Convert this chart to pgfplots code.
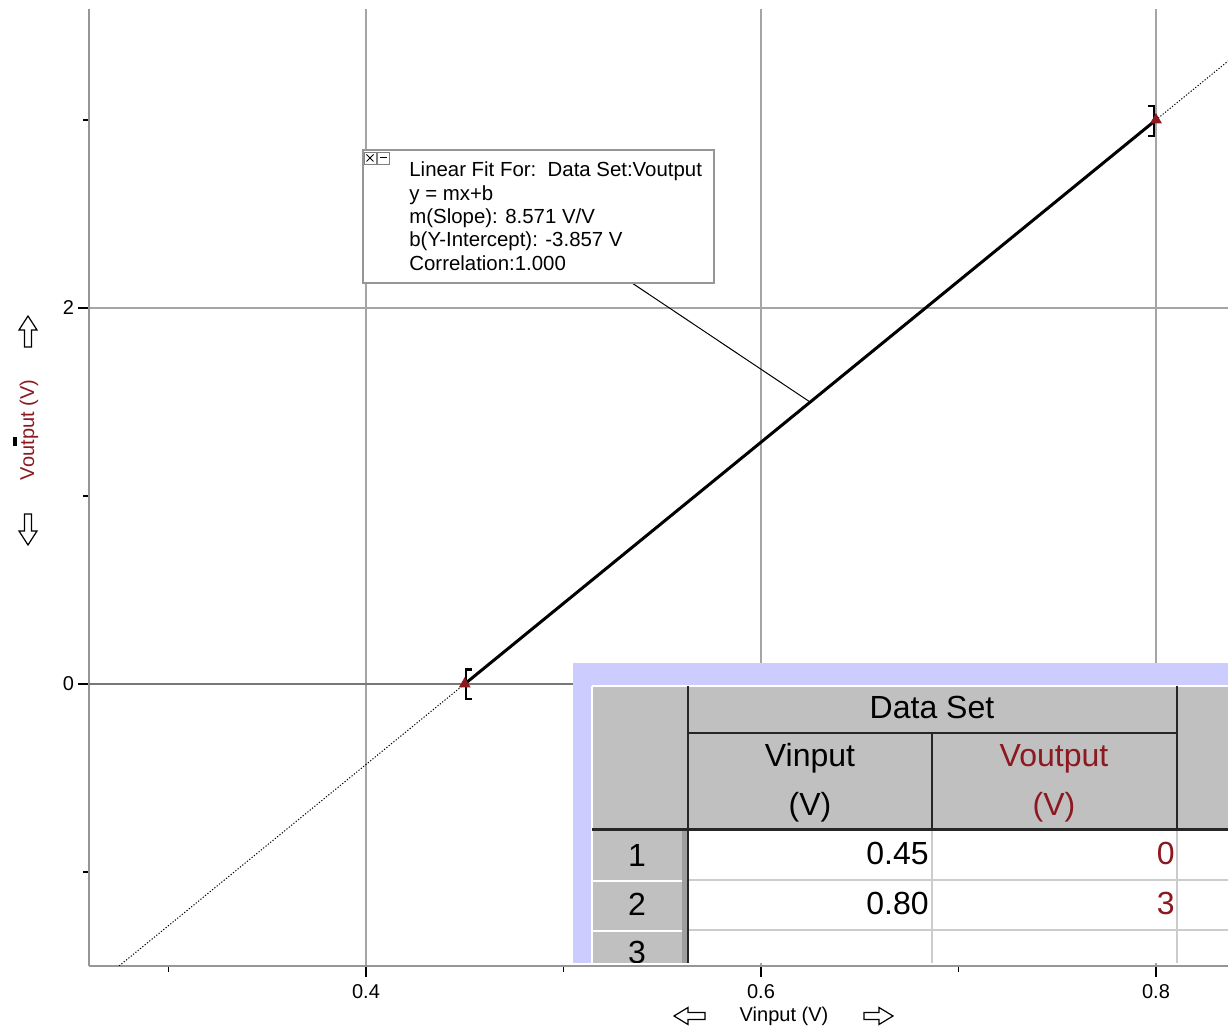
\documentclass[border=0pt]{standalone}
\usepackage{fontspec}
\setmainfont{Liberation Sans}
\usepackage{pgfplots}
\pgfplotsset{compat=1.18}

\definecolor{vout}{RGB}{140,24,32}
\definecolor{lav}{RGB}{204,204,255}
\definecolor{hdr}{RGB}{192,192,192}
\definecolor{gridc}{RGB}{165,165,165}
\definecolor{axc}{RGB}{150,150,150}

\begin{document}
\begin{tikzpicture}
\useasboundingbox (0,0) rectangle (614pt,514pt);

\begin{axis}[
  at={(44.5pt,31pt)}, anchor=south west,
  scale only axis, width=569.5pt, height=478.5pt,
  xmin=0.25975, xmax=0.83646, ymin=-1.5, ymax=3.59,
  axis x line*=bottom, axis y line*=left,
  axis line style={draw=axc, line width=0.8pt, -},
  xtick={0.4,0.6,0.8}, minor xtick={0.3,0.5,0.7},
  ytick={0,2}, minor ytick={-1,1,3},
  tick align=outside, major tick length=5.5pt, minor tick length=3pt,
  tick style={black, line width=0.6pt},
  grid=major, major grid style={draw=gridc, line width=0.6pt},
  ticklabel style={font=\fontsize{10}{12}\selectfont},
  yticklabel style={xshift=1.5pt},
  /pgf/number format/assume math mode=true,
]
  % zero line
  \draw[color=axc!80!black, line width=1.4pt] (axis cs:0.25975,0) -- (axis cs:0.83646,0);
  % extrapolated fit
  \addplot[black, line width=0.5pt, dash pattern=on 0.6pt off 0.9pt] coordinates {(0.255,-1.671) (0.840,3.343)};
  % fit over the selected range
  \addplot[black, line width=1.5pt] coordinates {(0.45,0) (0.80,3)};
  % data
  \addplot[only marks, mark=triangle*, mark size=3pt, color=vout] coordinates {(0.45,0) (0.80,3)};
  % selection brackets
  \draw[black, line width=1.2pt]
    ([shift={(3.5pt,7.2pt)}]axis cs:0.45,0) -- ([shift={(0.6pt,7.2pt)}]axis cs:0.45,0)
    -- ([shift={(0.6pt,-7.5pt)}]axis cs:0.45,0) -- ([shift={(3.5pt,-7.5pt)}]axis cs:0.45,0);
  \draw[black, line width=1.2pt]
    ([shift={(-4pt,7pt)}]axis cs:0.8,3) -- ([shift={(-1pt,7pt)}]axis cs:0.8,3)
    -- ([shift={(-1pt,-8pt)}]axis cs:0.8,3) -- ([shift={(-4pt,-8pt)}]axis cs:0.8,3);
\end{axis}

% annotations, laid out in screen units (y downwards)
\begin{scope}[x=0.5pt, y=-0.5pt, shift={(0,514pt)}]
  % axis titles and scroll arrows
  \node[rotate=90, text=vout, font=\fontsize{10}{12}\selectfont] at (29,430) {Voutput (V)};
  \fill (13,437) rectangle (17,446);
  \draw[fill=white, line width=0.6pt] (28,316) -- (37,330) -- (31.5,330) -- (31.5,347) -- (24.5,347) -- (24.5,330) -- (19,330) -- cycle;
  \draw[fill=white, line width=0.6pt] (28,545) -- (37,531) -- (31.5,531) -- (31.5,514) -- (24.5,514) -- (24.5,531) -- (19,531) -- cycle;
  \node[font=\fontsize{10}{12}\selectfont] at (784,1016) {Vinput (V)};
  \draw[fill=white, line width=0.6pt] (674,1016) -- (688,1007.5) -- (688,1012.5) -- (705,1012.5) -- (705,1019.5) -- (688,1019.5) -- (688,1024.5) -- cycle;
  \draw[fill=white, line width=0.6pt] (893,1016) -- (879,1007.5) -- (879,1012.5) -- (864,1012.5) -- (864,1019.5) -- (879,1019.5) -- (879,1024.5) -- cycle;

  % fit result box
  \draw[black, line width=0.5pt] (632,283) -- (810,402);
  \draw[fill=white, draw=axc, line width=0.6pt] (363,150) rectangle (714,283);
  \draw[fill=white, draw=gray, line width=0.4pt] (364,152) rectangle (376,164);
  \draw[line width=0.4pt] (366.5,154.5) -- (373.5,161.5) (366.5,161.5) -- (373.5,154.5);
  \draw[fill=white, draw=gray, line width=0.4pt] (377,152) rectangle (389,164);
  \draw[line width=0.5pt] (379.5,158) -- (386.5,158);
  \begin{scope}[every node/.style={anchor=base west, inner sep=0pt, font=\fontsize{10.2}{12}\selectfont}]
    \node at (409,177) {Linear Fit For:\ \ Data Set:Voutput};
    \node at (409,200.3) {y = mx+b};
    \node at (409,223.6) {m(Slope): 8.571 V/V};
    \node at (409,247) {b(Y-Intercept): -3.857 V};
    \node at (409,270.3) {Correlation:1.000};
  \end{scope}

  % data table
  \begin{scope}
    \clip (573,663) rectangle (1228,963);
    \fill[lav] (573,663) rectangle (1228,963);
    \fill[hdr] (592,686) rectangle (1228,831);
    \fill[hdr] (592,831) rectangle (686,963);
    \fill[white] (688,831) rectangle (1228,963);
    \draw[white, line width=1pt] (592,881) -- (682,881) (592,931) -- (682,931);
    \fill[gray!75] (682,831) rectangle (688,963);
    \draw[white, line width=0.8pt] (592,686) -- (1228,686) (592,686) -- (592,963);
    \draw[gray!40, line width=0.6pt] (688,880) -- (1228,880) (688,930) -- (1228,930)
      (932,831) -- (932,963) (1177,831) -- (1177,963);
    \draw[black!85, line width=1pt] (688,686) -- (688,963)
      (688,733) -- (1177,733) (932,733) -- (932,830) (1177,686) -- (1177,830);
    \draw[black!85, line width=1.5pt] (592,830) -- (1228,830);
    \begin{scope}[every node/.style={inner sep=0pt, font=\fontsize{16}{18}\selectfont}]
      \node[anchor=base] at (932,718.5) {Data Set};
      \node[anchor=base] at (810,767) {Vinput};
      \node[anchor=base] at (810,815.5) {(V)};
      \node[anchor=base, text=vout] at (1054,767) {Voutput};
      \node[anchor=base, text=vout] at (1054,815.5) {(V)};
      \node[anchor=base] at (637,866.5) {1};
      \node[anchor=base] at (637,915.5) {2};
      \node[anchor=base] at (637,964) {3};
      \node[anchor=base east] at (929,864.5) {0.45};
      \node[anchor=base east] at (929,914.5) {0.80};
      \node[anchor=base east, text=vout] at (1175,864.5) {0};
      \node[anchor=base east, text=vout] at (1175,914.5) {3};
    \end{scope}
  \end{scope}
\end{scope}
\end{tikzpicture}
\end{document}
